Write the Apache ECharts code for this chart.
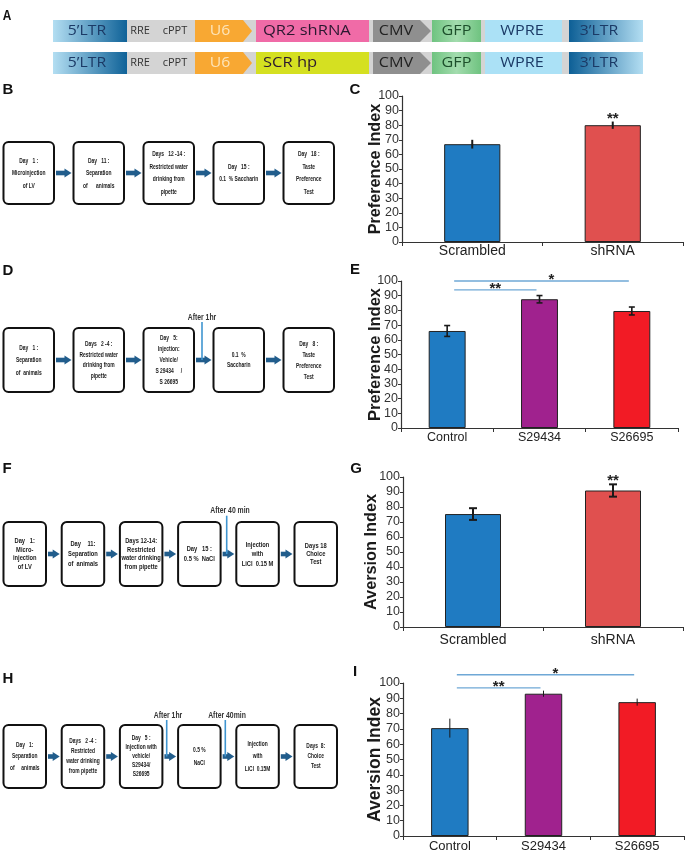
<!DOCTYPE html>
<html><head><meta charset="utf-8">
<script src="https://cdn.jsdelivr.net/npm/echarts@6/dist/echarts.min.js"></script>
<style>html,body{margin:0;padding:0;background:#fff}#c{width:688px;height:853px}</style>
</head><body><div id="c"></div>
<script>
// ---------------- data ----------------
var catsC = ['Scrambled', 'shRNA'];
var valsC = [67, 80];
var errC = [3, 2.5];
var catsE = ['Control', 'S29434', 'S26695'];
var valsE = [66, 87.6, 79.6];
var errE = [3.7, 2.5, 2.7];
var catsG = ['Scrambled', 'shRNA'];
var valsG = [75.3, 91];
var errG = [3.9, 4.1];
var catsI = ['Control', 'S29434', 'S26695'];
var valsI = [70.5, 93, 87.5];
var errI = [6.2, 2, 2.3];
var sigC = [{at: 1, text: '**'}];
var sigG = [{at: 1, text: '**'}];
var sigE = [{from: 0, to: 1, y: 94, text: '**'}, {from: 0, to: 2, y: 100, text: '*'}];
var sigI = [{from: 0, to: 1, y: 96.8, text: '**'}, {from: 0, to: 2, y: 105.4, text: '*'}];
var yMin = 0, yMax = 100, yStep = 10;

var constructA1 = ['5\u2019LTR', 'RRE', 'cPPT', 'U6', 'QR2 shRNA', 'CMV', 'GFP', 'WPRE', '3\u2019LTR'];
var constructA2 = ['5\u2019LTR', 'RRE', 'cPPT', 'U6', 'SCR hp', 'CMV', 'GFP', 'WPRE', '3\u2019LTR'];

var flowB = [
  ['Day   1 :', 'Microinjection', 'of LV'],
  ['Day   11 :', 'Separation', 'of      animals'],
  ['Days   12 -14 :', 'Restricted water', 'drinking from', 'pipette'],
  ['Day   15 :', '0.1  % Saccharin'],
  ['Day   18 :', 'Taste', 'Preference', 'Test']
];
var flowD = [
  ['Day   1 :', 'Separation', 'of  animals'],
  ['Days   2 -4 :', 'Restricted water', 'drinking from', 'pipette'],
  ['Day   5:', 'Injection:', 'Vehicle/', 'S 29434     /', 'S 26695'],
  ['0.1  %', 'Saccharin'],
  ['Day   8 :', 'Taste', 'Preference', 'Test']
];
var flowF = [
  ['Day   1:', 'Micro-', 'injection', 'of LV'],
  ['Day    11:', 'Separation', 'of  animals'],
  ['Days 12-14:', 'Restricted', 'water drinking', 'from pipette'],
  ['Day   15 :', '0.5 %  NaCl'],
  ['Injection', 'with', 'LiCl  0.15 M'],
  ['Days 18', 'Choice', 'Test']
];
var flowH = [
  ['Day   1:', 'Separation', 'of     animals'],
  ['Days   2 -4 :', 'Restricted', 'water drinking', 'from pipette'],
  ['Day   5 :', 'Injection with', 'vehicle/', 'S29434/', 'S26695'],
  ['0.5 %', 'NaCl'],
  ['Injection', 'with', 'LiCl  0.15M'],
  ['Days  8:', 'Choice', 'Test']
];

// ---------------- helpers ----------------
var FF = '"Liberation Sans", Arial, sans-serif';
var G = [];
function rect(x, y, w, h, fill, style, r) {
  G.push({type: 'rect', silent: true, shape: {x: x, y: y, width: w, height: h, r: r || 0},
    style: Object.assign({fill: fill}, style || {})});
}
function poly(points, fill) {
  G.push({type: 'polygon', silent: true, shape: {points: points}, style: {fill: fill}});
}
function seg(x1, y1, x2, y2, stroke, lw) {
  G.push({type: 'line', silent: true, shape: {x1: x1, y1: y1, x2: x2, y2: y2}, style: {stroke: stroke, lineWidth: lw}});
}
function txt(x, y, s, font, fill, sx, align) {
  G.push({type: 'text', silent: true, x: x, y: y, scaleX: sx || 1, z: 20,
    style: {text: s, font: font, fill: fill, align: align || 'center', verticalAlign: 'middle',
      textAlign: align || 'center', textVerticalAlign: 'middle'}});
}
function lin(c0, c1) { return {type: 'linear', x: 0, y: 0, x2: 1, y2: 0, colorStops: [{offset: 0, color: c0}, {offset: 1, color: c1}]}; }

// ---------------- panel A ----------------
function construct(y, labels, insertColor) {
  var h = 22, cy = y + h / 2, F = '15px "Open Sans", sans-serif';
  rect(53, y, 590, h, '#d4d4d4');
  rect(53, y, 74, h, lin('#b3def2', '#0f6298'));
  txt(87, cy, labels[0], F, '#1b3a66', 1.05);
  txt(140, cy, labels[1], '10px "Open Sans", sans-serif', '#333', 1.1);
  txt(175, cy, labels[2], '10px "Open Sans", sans-serif', '#333', 1.1);
  poly([[195, y], [243, y], [252, cy], [243, y + h], [195, y + h]], '#f8a833');
  txt(220, cy, labels[3], F, '#fde4b8', 1.05);
  rect(256, y, 113, h, insertColor);
  txt(263, cy, labels[4], F, '#2b1830', 1.1, 'left');
  poly([[373, y], [420, y], [431, cy], [420, y + h], [373, y + h]], '#8f8f8f');
  txt(396, cy, labels[5], F, '#222', 1.08);
  rect(432, y, 49, h, {type: 'linear', x: 0, y: 0, x2: 1, y2: 0, colorStops: [{offset: 0, color: '#6fc380'}, {offset: 0.5, color: '#a3dcae'}, {offset: 1, color: '#6fc380'}]});
  txt(456.5, cy, labels[6], F, '#1d4f2b', 1.08);
  rect(485, y, 77, h, '#abe1f6');
  txt(522, cy, labels[7], F, '#1b3a66', 1.08);
  rect(569, y, 74, h, lin('#0d5f96', '#b3def2'));
  txt(599, cy, labels[8], F, '#1b3a66', 1.05);
}
construct(20, constructA1, '#f06ba7');
construct(52, constructA2, '#d5e021');

// ---------------- flowcharts ----------------
function flow(spec) {
  var n = spec.boxes.length;
  for (var i = 0; i < n; i++) {
    var bx = spec.x0 + i * spec.pitch;
    rect(bx, spec.y, spec.w, spec.h, '#fff', {stroke: '#111', lineWidth: 2}, 5);
    var lines = spec.boxes[i], lh = (spec.lhs && spec.lhs[i]) || spec.lh;
    var cy = spec.y + spec.h / 2 - (lines.length - 1) * lh / 2;
    for (var k = 0; k < lines.length; k++) {
      txt(bx + spec.w / 2, cy + k * lh, lines[k], spec.font, '#1a1a1a', spec.sx);
    }
    if (i < n - 1) {
      var ay = spec.y + spec.h / 2 + (spec.ady || 0);
      var a1 = bx + spec.w + 2, a2 = spec.x0 + (i + 1) * spec.pitch - 2;
      rect(a1, ay - 2.3, a2 - a1 - 6, 4.6, '#215d8c');
      poly([[a2 - 7, ay - 4.5], [a2, ay], [a2 - 7, ay + 4.5]], '#215d8c');
    }
  }
  (spec.callouts || []).forEach(function (c) {
    var ay = spec.y + spec.h / 2 + (spec.ady || 0);
    seg(c.x, c.ly + 5, c.x, ay, '#3f95d0', 1.6);
    txt(c.lx, c.ly, c.label, 'bold 9.5px ' + FF, '#333', 0.72);
  });
}
flow({boxes: flowB, x0: 3.5, pitch: 70, w: 50.5, y: 142, h: 62, lh: 12.5, font: 'bold 7.5px ' + FF, sx: 0.66});
flow({boxes: flowD, x0: 3.5, pitch: 70, w: 50.5, y: 328, h: 64, lh: 11, lhs: [12.5, 10.5, 11, 9.5, 11], font: 'bold 7.5px ' + FF, sx: 0.66,
  callouts: [{x: 202, lx: 202, ly: 317, label: 'After 1hr'}]});
flow({boxes: flowF, x0: 3.5, pitch: 58.2, w: 42.5, y: 522, h: 64, lh: 8.5, lhs: [8.5, 10, 8.5, 10, 9.5, 8], font: 'bold 8px ' + FF, sx: 0.72,
  callouts: [{x: 226.7, lx: 230, ly: 510.7, label: 'After 40 min'}]});
flow({boxes: flowH, x0: 3.5, pitch: 58.2, w: 42.5, y: 725, h: 63, lh: 10, lhs: [11.5, 10, 9, 13, 12.5, 10], font: 'bold 7px ' + FF, sx: 0.7,
  callouts: [{x: 166.7, lx: 168, ly: 715, label: 'After 1hr'}, {x: 225.3, lx: 227, ly: 715, label: 'After 40min'}]});

// panel letters
txt(7, 16, 'A', 'bold 14px ' + FF, '#111', 0.85);
txt(8, 90, 'B', 'bold 15px ' + FF, '#111');
txt(355, 90, 'C', 'bold 15px ' + FF, '#111');
txt(8, 271, 'D', 'bold 15px ' + FF, '#111');
txt(355, 270, 'E', 'bold 15px ' + FF, '#111');
txt(7, 469, 'F', 'bold 15px ' + FF, '#111');
txt(356, 469, 'G', 'bold 15px ' + FF, '#111');
txt(8, 679, 'H', 'bold 15px ' + FF, '#111');
txt(355, 672, 'I', 'bold 15px ' + FF, '#111');

// ---------------- charts ----------------
var panels = [
  {cats: catsC, vals: valsC, err: errC, colors: ['#1f7bc2', '#e0504f'], name: 'Preference Index', g: [402, 96, 281, 146], ls: 14, lm: 2, ng: 18, ns: 16.2, cap: 0, elw: 2},
  {cats: catsE, vals: valsE, err: errE, colors: ['#1f7bc2', '#a0228e', '#f21b25'], name: 'Preference Index', g: [401, 281, 277, 147], ls: 12.5, lm: 3, ng: 17, ns: 16.5, cap: 6, elw: 1.6},
  {cats: catsG, vals: valsG, err: errG, colors: ['#1f7bc2', '#e0504f'], name: 'Aversion Index', g: [403, 477, 280, 150], ls: 14, lm: 6, ng: 23, ns: 16.3, cap: 8, elw: 2},
  {cats: catsI, vals: valsI, err: errI, colors: ['#1f7bc2', '#a0228e', '#f21b25'], name: 'Aversion Index', g: [403, 683, 281, 155], ls: 13, lm: 4, ng: 19, ns: 17.5, cap: 0, elw: 1}
];

function errRender(cap, lw) {
  return function (params, api) {
    var x = api.value(0), v = api.value(1), e = api.value(2);
    var t = api.coord([x, v + e]), b = api.coord([x, v - e]);
    var ch = [{type: 'line', shape: {x1: t[0], y1: t[1], x2: b[0], y2: b[1]}, style: {stroke: '#1a1a1a', lineWidth: lw}}];
    if (cap) {
      ch.push({type: 'line', shape: {x1: t[0] - cap / 2, y1: t[1], x2: t[0] + cap / 2, y2: t[1]}, style: {stroke: '#1a1a1a', lineWidth: lw}});
      ch.push({type: 'line', shape: {x1: b[0] - cap / 2, y1: b[1], x2: b[0] + cap / 2, y2: b[1]}, style: {stroke: '#1a1a1a', lineWidth: lw}});
    }
    return {type: 'group', children: ch};
  };
}

var option = {
  animation: false,
  backgroundColor: '#fff',
  grid: panels.map(function (p) { return {left: p.g[0], top: p.g[1], width: p.g[2], height: p.g[3]}; }),
  xAxis: panels.map(function (p, i) {
    return {type: 'category', gridIndex: i, data: p.cats,
      axisLine: {lineStyle: {color: '#333', width: 1.2}},
      axisTick: {show: true, length: 4, lineStyle: {color: '#333'}},
      axisLabel: {color: '#222', fontSize: p.ls, margin: p.lm, fontFamily: FF}};
  }),
  yAxis: panels.map(function (p, i) {
    return {type: 'value', gridIndex: i, min: yMin, max: yMax, interval: yStep,
      name: p.name, nameLocation: 'middle', nameGap: p.ng, nameMoveOverlap: false,
      nameTextStyle: {fontSize: p.ns, fontWeight: 'bold', color: '#1a1a1a', fontFamily: FF},
      axisLine: {show: true, lineStyle: {color: '#333', width: 1.2}},
      axisTick: {show: true, length: 3, lineStyle: {color: '#333'}},
      axisLabel: {color: '#333', fontSize: 12.5, margin: 3, fontFamily: FF},
      splitLine: {show: false}};
  }),
  series: []
};
panels.forEach(function (p, i) {
  option.series.push({type: 'bar', xAxisIndex: i, yAxisIndex: i, barWidth: '40%',
    itemStyle: {borderColor: '#222', borderWidth: 1},
    data: p.vals.map(function (v, j) { return {value: v, itemStyle: {color: p.colors[j]}}; })});
  option.series.push({type: 'custom', xAxisIndex: i, yAxisIndex: i, z: 10, clip: false,
    renderItem: errRender(p.cap, p.elw), encode: {x: 0, y: 1},
    data: p.vals.map(function (v, j) { return [j, v, p.err[j]]; })});
});

var chart = echarts.init(document.getElementById('c'), null, {renderer: 'canvas'});
chart.setOption(option);

// significance markers via the chart's own scales
function px(i, x, y) { return chart.convertToPixel({xAxisIndex: i, yAxisIndex: i}, [x, y]); }
function starsOver(i, list) {
  var p = panels[i];
  list.forEach(function (s) {
    var pt = px(i, s.at, p.vals[s.at] + p.err[s.at]);
    txt(pt[0], pt[1] - 3, s.text, 'bold 15px ' + FF, '#222');
  });
}
function brackets(i, list) {
  list.forEach(function (s) {
    var a = px(i, s.from, s.y), b = px(i, s.to, s.y);
    seg(a[0] + 7, a[1], b[0] - 3, b[1], '#6fa8d6', 1.3);
    var mx = (a[0] + 7 + b[0] - 3) / 2 + (s.text === '*' ? 10 : 0);
    txt(mx, a[1] - 1, s.text, 'bold 15px ' + FF, '#222');
  });
}
starsOver(0, sigC);
starsOver(2, sigG);
brackets(1, sigE);
brackets(3, sigI);

chart.setOption({graphic: {elements: G}});
</script></body></html>
